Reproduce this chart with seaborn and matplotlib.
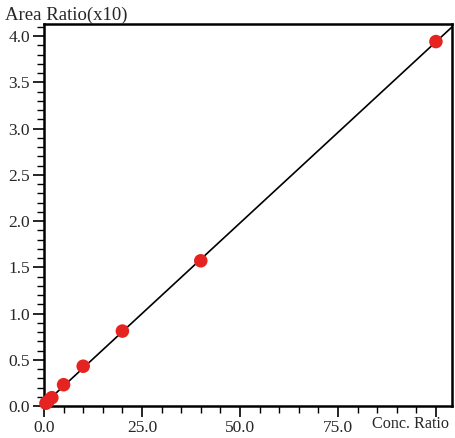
import matplotlib
matplotlib.use("Agg")
import matplotlib.pyplot as plt
import seaborn as sns
import pandas as pd
from matplotlib.ticker import MultipleLocator

# calibration data
conc_ratio = [0.5, 1.0, 2.0, 5.0, 10.0, 20.0, 40.0, 100.0]
area_ratio = [0.03, 0.05, 0.09, 0.23, 0.43, 0.81, 1.57, 3.94]
x_ticks = [0, 25, 50, 75, 100]
x_tick_labels = ["0.0", "25.0", "50.0", "75.0", ""]
y_ticks = [0.0, 0.5, 1.0, 1.5, 2.0, 2.5, 3.0, 3.5, 4.0]

df = pd.DataFrame({"conc": conc_ratio, "area": area_ratio})

sns.set_style("ticks")
plt.rcParams["font.family"] = ["Liberation Serif", "DejaVu Serif"]

fig = plt.figure(figsize=(4.55, 4.38), dpi=100)
ax = fig.add_axes([44 / 455, 32 / 438, 408 / 455, 382 / 438])
ax.set_xlim(0, 104.1)
ax.set_ylim(0, 4.13)

# regression line across whole axis, then the points
sns.regplot(data=df, x="conc", y="area", scatter=False, ci=None, truncate=False,
            color="black", line_kws={"lw": 1.2}, ax=ax)
sns.scatterplot(data=df, x="conc", y="area", color="#e52421", s=95,
                edgecolor="none", zorder=5, ax=ax, clip_on=False)

ax.set_xlim(0, 104.1)
ax.set_ylim(0, 4.13)
ax.set_xticks(x_ticks)
ax.set_xticklabels(x_tick_labels)
ax.set_yticks(y_ticks)
ax.set_yticklabels([f"{v:.1f}" for v in y_ticks])
ax.xaxis.set_minor_locator(MultipleLocator(5))
ax.yaxis.set_minor_locator(MultipleLocator(0.1))
ax.tick_params(which="major", length=8, width=1.2, labelsize=12.5, pad=2, color="black")
ax.tick_params(which="minor", length=5, width=1.0, color="black")
ax.set_xlabel("")
ax.set_ylabel("")

for side in ["left", "bottom", "top", "right"]:
    ax.spines[side].set_visible(True)
    ax.spines[side].set_color("black")
    ax.spines[side].set_linewidth(1.8)

fig.text(5 / 455, 1 - 15 / 438, "Area Ratio(x10)", fontsize=13.5, va="center", ha="left")
fig.text(411 / 455, 1 - 424 / 438, "Conc. Ratio", fontsize=11.6, va="center", ha="center")

fig.savefig("out.png", dpi=100)
plt.close()
